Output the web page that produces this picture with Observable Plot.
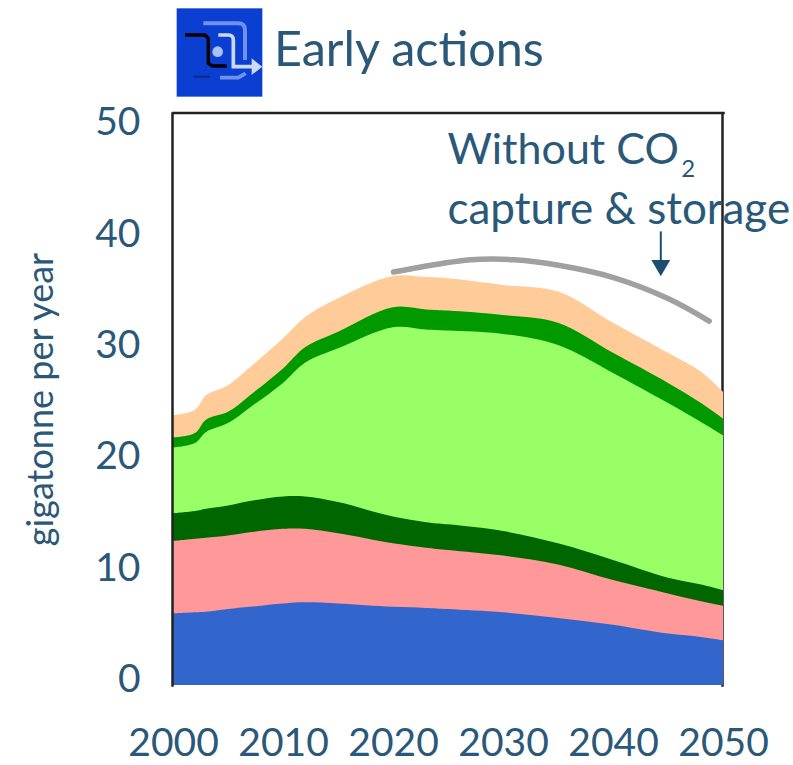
<!DOCTYPE html>
<html>
<head>
<meta charset="utf-8">
<script src="https://cdn.jsdelivr.net/npm/d3@7"></script>
<script src="https://cdn.jsdelivr.net/npm/@observablehq/plot@0.6"></script>
<style>
  html, body { margin: 0; padding: 0; background: #fff; }
  #header { position: relative; width: 793px; height: 90px; }
  #header svg { position: absolute; left: 175px; top: 5px; }
  #title { position: absolute; left: 274px; top: 18px; font: 400 48.5px Lato, sans-serif; color: #2a5878; white-space: nowrap; }
  #chart svg { display: block; }
</style>
</head>
<body>
<div id="header">
  <svg width="92" height="94" viewBox="0 0 276 282">
    <rect x="5" y="10" width="257" height="265" fill="#0a3fd2"/>
    <path d="M85 55H190Q210 55 210 75V165" fill="none" stroke="#6f93ec" stroke-width="12"/>
    <path d="M130 90H160Q175 90 175 105V185H240" fill="none" stroke="#cdd9fa" stroke-width="11"/>
    <path d="M230 160L262 185L230 210Z" fill="#cdd9fa"/>
    <circle cx="128" cy="140" r="16" fill="#a9c1f5"/>
    <path d="M135 218H190L212 205" fill="none" stroke="#6f93ec" stroke-width="11"/>
    <path d="M30 90H90L100 100V175L112 183H155" fill="none" stroke="#000" stroke-width="10"/>
    <path d="M55 215H105" fill="none" stroke="#0a2a80" stroke-width="6"/>
  </svg>
  <div id="title">Early actions</div>
</div>
<div id="chart"></div>
<script>
// Upper edge of each stacked band, gigatonne per year
const years        = [2000, 2002, 2003, 2005, 2007, 2010, 2012, 2015, 2020, 2023, 2025, 2030, 2035, 2040, 2045, 2048, 2050];
const peachTop     = [23.7, 24.2, 25.5, 26.4, 28.0, 30.6, 32.5, 34.2, 36.2, 36.1, 36.0, 35.4, 34.8, 32.0, 29.3, 27.6, 25.8];
const greenTop     = [21.7, 22.1, 23.3, 24.0, 25.5, 27.9, 29.8, 31.2, 33.4, 33.2, 33.1, 32.7, 32.0, 29.3, 26.6, 24.8, 23.4];
const limeTop      = [20.8, 21.2, 22.2, 23.0, 24.4, 26.6, 28.4, 29.7, 31.6, 31.4, 31.3, 31.0, 30.0, 27.5, 24.8, 23.1, 21.9];
const darkTop      = [14.9, 15.1, 15.3, 15.6, 16.0, 16.4, 16.4, 15.9, 14.6, 14.1, 13.9, 13.3, 12.2, 10.7, 9.1, 8.5, 8.0];
const pinkTop      = [12.4, 12.6, 12.7, 12.9, 13.2, 13.5, 13.5, 13.1, 12.2, 11.8, 11.6, 11.1, 10.3, 8.9, 7.7, 7.0, 6.6];
const blueTop      = [5.9, 6.0, 6.05, 6.3, 6.5, 6.8, 6.9, 6.8, 6.5, 6.4, 6.3, 6.0, 5.5, 4.9, 4.1, 3.8, 3.5];

// Emissions without capture and storage
const noCcsYears   = [2020, 2024, 2027, 2031, 2035, 2040, 2045, 2048.7];
const noCcsValues  = [36.6, 37.3, 37.7, 37.7, 37.2, 36.1, 34.2, 32.2];

const yDomain = [-0.52, 50.83];
const yTicks  = [0, 10, 20, 30, 40, 50];
const xTicks  = [2000, 2010, 2020, 2030, 2040, 2050];

const textColor = "#2a5878";
const arrowColor = "#1d4e70";
const font = "Lato, sans-serif";

// Painted back to front, each band reaching down to the floor of the frame
const bands = [
  [peachTop, "#ffcc99"],
  [greenTop, "#009900"],
  [limeTop,  "#99ff66"],
  [darkTop,  "#006600"],
  [pinkTop,  "#ff9999"],
  [blueTop,  "#3366cc"]
];

const chart = Plot.plot({
  width: 793,
  height: 675,
  marginTop: 23,
  marginBottom: 80,
  marginLeft: 173,
  marginRight: 70,
  style: { fontFamily: font, background: "#fff", color: textColor },
  x: { domain: [2000, 2050] },
  y: { domain: yDomain },
  marks: [
    Plot.frame({ anchor: "top", stroke: "#222", strokeWidth: 2.5, dy: -0.5 }),
    Plot.frame({ anchor: "right", stroke: "#222", strokeWidth: 2.5, dx: -1 }),
    ...bands.map(([tops, fill]) =>
      Plot.areaY(years, {
        x: d => d,
        y1: yDomain[0],
        y2: (d, i) => tops[i],
        fill,
        curve: "catmull-rom"
      })
    ),
    Plot.frame({ anchor: "left", stroke: "#222", strokeWidth: 2.5, dx: -1 }),
    Plot.lineY(noCcsYears, {
      x: d => d,
      y: (d, i) => noCcsValues[i],
      stroke: "#a0a0a0",
      strokeWidth: 5.5,
      curve: "catmull-rom"
    }),
    Plot.ruleX([2044.3], { y1: 40.2, y2: 37, stroke: arrowColor, strokeWidth: 2 }),
    Plot.dot([2044.3], { x: d => d, y: 37.2, r: 7, symbol: "triangle", rotate: 180, fill: arrowColor }),
    Plot.text(["Without CO"], { x: 2024.9, y: 47.5, textAnchor: "start", fontSize: 43, fill: textColor }),
    Plot.text(["2"], { x: 2046.8, y: 45.85, fontSize: 24, fill: textColor }),
    Plot.text(["capture & storage"], { x: 2024.9, y: 42.2, textAnchor: "start", fontSize: 44, fill: textColor }),
    Plot.text(["gigatonne per year"], { frameAnchor: "left", textAnchor: "middle", dx: -132, rotate: -90, fontSize: 36, fill: textColor }),
    Plot.axisY({ ticks: yTicks, tickSize: 0, tickPadding: 33, fontSize: 39, label: null, fill: textColor }),
    Plot.axisX({ ticks: xTicks, tickSize: 0, tickPadding: 43, fontSize: 39, tickFormat: "d", label: null, fill: textColor })
  ]
});
document.getElementById("chart").appendChild(chart);
</script>
</body>
</html>
